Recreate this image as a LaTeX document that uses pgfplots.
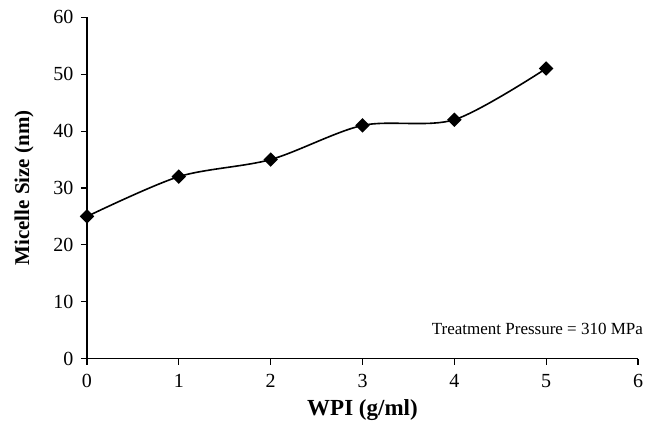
\documentclass[border=0pt]{standalone}
\usepackage{fontspec}
\setmainfont{Liberation Serif}
\usepackage{pgfplots}
\pgfplotsset{compat=1.18}
\begin{document}
\begin{tikzpicture}
\begin{axis}[
    scale only axis,
    width=551bp,
    height=341.4bp,
    at={(0,0)}, anchor=south west,
    xmin=0, xmax=6,
    ymin=0, ymax=60,
    xtick={0,1,...,6},
    ytick={0,10,...,60},
    axis x line*=bottom,
    axis y line*=left,
    axis line style={line width=1.1bp, -},
    tick align=outside,
    major tick length=6bp,
    tick style={black, line width=1.1bp},
    /pgf/number format/assume math mode=true,
    tick label style={font=\fontsize{20bp}{24bp}\selectfont},
    xticklabel style={yshift=-6bp},
    yticklabel style={xshift=-4bp},
    xlabel={\textbf{WPI (g/ml)}},
    ylabel={\textbf{Micelle Size (nm)}},
    every axis x label/.style={at={(rel axis cs:0.5,0)}, anchor=center, yshift=-51bp,
        font=\fontsize{23bp}{27bp}\selectfont},
    every axis y label/.style={at={(rel axis cs:0,0.5)}, anchor=center, xshift=-63bp, rotate=90,
        font=\fontsize{21bp}{25bp}\selectfont},
    clip=false,
]
\addplot[black, line width=1.6bp, smooth, tension=0.5, mark=square*,
    mark size=4.3bp, mark options={rotate=45, solid}]
    coordinates {(0,25) (1,32) (2,35) (3,41) (4,42) (5,51)};
\node[anchor=east, inner sep=0pt, font=\fontsize{17bp}{20bp}\selectfont]
    at (axis cs:6.056,5.2) {Treatment Pressure = 310 MPa};
\end{axis}
\pgfresetboundingbox
\path (-87bp,-68.3bp) rectangle (569bp,358.7bp);
\end{tikzpicture}
\end{document}
